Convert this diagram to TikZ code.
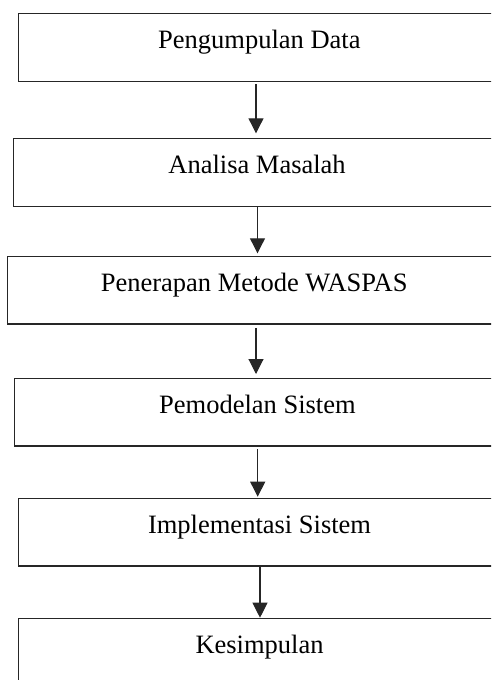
\documentclass[tikz,border=0pt]{standalone}
\usepackage{fontspec}
\setmainfont{Liberation Serif}
\usetikzlibrary{arrows.meta}
\tikzset{
  stepbox/.style={draw=black!85, line width=1.1pt, inner sep=0pt, anchor=north west,
    font=\fontsize{26.5}{30}\selectfont, text height=35.3pt, text depth=32.4pt, align=center},
  arr/.style={draw=black!85, line width=1.1pt, -{Triangle[length=15pt,width=15pt]}},
}
\begin{document}
\begin{tikzpicture}[x=1pt,y=-1pt]
\useasboundingbox (0,0) rectangle (491,680);
\clip (0,0) rectangle (491,680);
\node[stepbox, minimum width=482.3pt] (b1) at (17.7,13) {Pengumpulan Data};
\node[stepbox, minimum width=487pt] (b2) at (13,138) {Analisa Masalah};
\node[stepbox, minimum width=492.7pt] (b3) at (7.3,255.7) {Penerapan Metode WASPAS};
\node[stepbox, minimum width=486.3pt] (b4) at (13.7,377.7) {Pemodelan Sistem};
\node[stepbox, minimum width=482pt] (b5) at (18,497.7) {Implementasi Sistem};
\node[stepbox, minimum width=482pt] (b6) at (18,617.7) {Kesimpulan};
\coordinate (x1) at (256,0);
\coordinate (x2) at (257.5,0);
\coordinate (x3) at (256,0);
\coordinate (x4) at (257.7,0);
\coordinate (x5) at (260,0);
\draw[arr, shorten <=2.3pt, shorten >=4.7pt] (b1.south -| x1) -- (b2.north -| x1);
\draw[arr, shorten >=2.4pt] (b2.south -| x2) -- (b3.north -| x2);
\draw[arr, shorten <=3.3pt, shorten >=3.7pt] (b3.south -| x3) -- (b4.north -| x3);
\draw[arr, shorten <=2.7pt, shorten >=1pt] (b4.south -| x4) -- (b5.north -| x4);
\draw[arr] (b5.south -| x5) -- (b6.north -| x5);
\end{tikzpicture}
\end{document}
